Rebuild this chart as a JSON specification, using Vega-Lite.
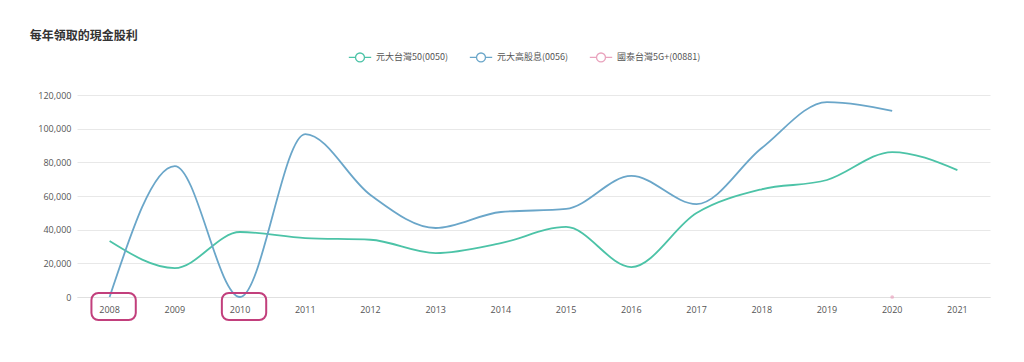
{
  "$schema": "https://vega.github.io/schema/vega-lite/v6.json",
  "width": 913,
  "height": 202,
  "autosize": "none",
  "padding": {"left": 77, "top": 95, "right": 34, "bottom": 65},
  "background": "white",
  "title": {"text": "每年領取的現金股利", "anchor": "start", "dx": -8, "offset": 2, "fontSize": 12, "fontWeight": "bold", "color": "#333333", "font": "Noto Sans CJK TC"},
  "config": {"view": {"stroke": null}, "font": "Noto Sans CJK TC",
    "axisY": {"title": null, "values": [0,20000,40000,60000,80000,100000,120000], "format": ",d", "labelOverlap": false, "domain": false, "ticks": false, "gridColor": "#e8e8e8", "labelColor": "#555555", "labelFontSize": 9, "labelPadding": 6, "labelFont": "Open Sans"},
    "axisX": {"title": null, "labelAngle": 0, "domainColor": "#e0e0e0", "ticks": false, "labelColor": "#555555", "labelFontSize": 9, "labelPadding": 8, "labelFont": "Open Sans"}},
  "datasets": {
    "div": [
      {"year": "2008", "fund": "元大台灣50(0050)", "value": 33300},
      {"year": "2009", "fund": "元大台灣50(0050)", "value": 17200},
      {"year": "2010", "fund": "元大台灣50(0050)", "value": 38600},
      {"year": "2011", "fund": "元大台灣50(0050)", "value": 35000},
      {"year": "2012", "fund": "元大台灣50(0050)", "value": 34000},
      {"year": "2013", "fund": "元大台灣50(0050)", "value": 26100},
      {"year": "2014", "fund": "元大台灣50(0050)", "value": 32000},
      {"year": "2015", "fund": "元大台灣50(0050)", "value": 41600},
      {"year": "2016", "fund": "元大台灣50(0050)", "value": 17800},
      {"year": "2017", "fund": "元大台灣50(0050)", "value": 49900},
      {"year": "2018", "fund": "元大台灣50(0050)", "value": 64000},
      {"year": "2019", "fund": "元大台灣50(0050)", "value": 69500},
      {"year": "2020", "fund": "元大台灣50(0050)", "value": 86100},
      {"year": "2021", "fund": "元大台灣50(0050)", "value": 75400},
      {"year": "2008", "fund": "元大高股息(0056)", "value": 0},
      {"year": "2009", "fund": "元大高股息(0056)", "value": 77800},
      {"year": "2010", "fund": "元大高股息(0056)", "value": 0},
      {"year": "2011", "fund": "元大高股息(0056)", "value": 96800},
      {"year": "2012", "fund": "元大高股息(0056)", "value": 60600},
      {"year": "2013", "fund": "元大高股息(0056)", "value": 41000},
      {"year": "2014", "fund": "元大高股息(0056)", "value": 50500},
      {"year": "2015", "fund": "元大高股息(0056)", "value": 52300},
      {"year": "2016", "fund": "元大高股息(0056)", "value": 71900},
      {"year": "2017", "fund": "元大高股息(0056)", "value": 55200},
      {"year": "2018", "fund": "元大高股息(0056)", "value": 88500},
      {"year": "2019", "fund": "元大高股息(0056)", "value": 115800},
      {"year": "2020", "fund": "元大高股息(0056)", "value": 110500},
      {"year": "2020", "fund": "國泰台灣5G+(00881)", "value": 0}
    ],
    "boxes": [
      {"year": "2008", "top": 2400, "bottom": -13700},
      {"year": "2010", "top": 2400, "bottom": -13700}
    ]
  },
  "layer": [
    {
      "data": {"name": "div"},
      "mark": {"type": "line", "interpolate": "monotone", "strokeWidth": 1.8},
      "encoding": {
        "x": {"field": "year", "type": "ordinal", "sort": ["2008","2009","2010","2011","2012","2013","2014","2015","2016","2017","2018","2019","2020","2021"],
          "scale": {"type": "band", "paddingInner": 0.32, "paddingOuter": 0.16}},
        "y": {"field": "value", "type": "quantitative",
          "scale": {"domain": [0, 120000], "nice": false}},
        "color": {"field": "fund", "type": "nominal",
          "scale": {"domain": ["元大台灣50(0050)", "元大高股息(0056)", "國泰台灣5G+(00881)"], "range": ["#4cc3a7", "#6aa6c9", "#e9a3bd"]},
          "legend": {"title": null, "orient": "none", "legendX": 271, "legendY": -50, "direction": "horizontal",
            "symbolType": "M-1,0L-0.4,0M0.4,0L1,0M-0.4,0A0.4,0.4,0,1,1,0.4,0A0.4,0.4,0,1,1,-0.4,0",
            "symbolSize": 500, "symbolFillColor": "white", "symbolStrokeWidth": 1.3, "labelFontSize": 9, "labelColor": "#555555", "columnPadding": 18, "labelOffset": 4}}
      }
    },
    {
      "data": {"name": "div"},
      "transform": [{"filter": "datum.fund === '國泰台灣5G+(00881)'"}],
      "mark": {"type": "point", "filled": true, "size": 14, "color": "#e9a3bd"},
      "encoding": {
        "x": {"field": "year", "type": "ordinal"},
        "y": {"field": "value", "type": "quantitative"}
      }
    },
    {
      "data": {"name": "boxes"},
      "mark": {"type": "rect", "fill": null, "stroke": "#c23f7c", "strokeWidth": 2, "cornerRadius": 7, "clip": false, "xOffset": 4},
      "encoding": {
        "x": {"field": "year", "type": "ordinal"},
        "y": {"field": "top", "type": "quantitative"},
        "y2": {"field": "bottom"}
      }
    }
  ]
}
